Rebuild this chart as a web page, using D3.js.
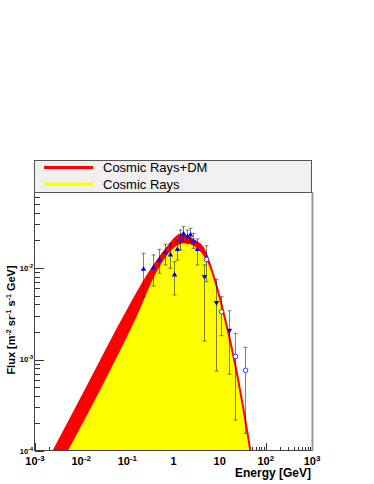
<!DOCTYPE html>
<meta charset="utf-8">
<style>
    body { margin: 0; background: #fff; }
    text { font-family: "Liberation Sans", Arial, sans-serif; }
    .tick-label { font-weight: bold; }
</style>
<svg width="374" height="484"></svg>
<script src="https://d3js.org/d3.v7.min.js"></script>
<script>
    // curve: energy [GeV] and flux
    var crdmEnergy = [0.0022, 0.00271, 0.0155, 0.0817, 0.310, 0.711, 1.45, 2.69, 4.42, 7.28, 12.0, 19.7, 32.5, 45.4, 52];
    var crdmFlux   = [8.75e-5, 1.07e-4, 5.71e-4, 2.82e-3, 9.12e-3, 0.0164, 0.0232, 0.0202, 0.0164, 8.37e-3, 3.33e-3, 1.12e-3, 2.93e-4, 1.07e-4, 7.1e-5];

    var crEnergy = [0.0045, 0.00553, 0.0317, 0.164, 0.431, 0.99, 1.77, 2.92, 4.08, 7.28, 12.0, 19.7, 32.5, 45.4, 52];
    var crFlux   = [8.8e-5, 1.07e-4, 5.71e-4, 3.06e-3, 9.12e-3, 0.0164, 0.0186, 0.0171, 0.0145, 8.2e-3, 3.28e-3, 1.10e-3, 2.88e-4, 1.05e-4, 7.0e-5];

    // measurements: energy, flux, upper, lower
    var upEnergy = [0.222, 0.354, 0.485, 0.664, 0.851, 1.01, 1.17, 1.38, 1.63, 1.96, 2.28, 2.68, 3.18];
    var upFlux   = [9.68e-3, 0.0101, 0.0122, 0.0149, 0.0139, 8.38e-3, 0.0160, 0.0208, 0.0236, 0.0220, 0.0230, 0.0194, 0.0160];
    var upHigh   = [0.0145, 0.0139, 0.0160, 0.0182, 0.0186, 0.0117, 0.0197, 0.0260, 0.0283, 0.0260, 0.0272, 0.0239, 0.0208];
    var upLow    = [4.85e-3, 6.35e-3, 8.75e-3, 0.0108, 9.93e-3, 5.07e-3, 0.0122, 0.0157, 0.0194, 0.0186, 0.0194, 0.0164, 0.0108];

    var downEnergy = [4.65, 8.32, 16.1];
    var downFlux   = [8.04e-3, 4.18e-3, 2.08e-3];
    var downHigh   = [0.0108, 7.53e-3, 3.41e-3];
    var downLow    = [1.59e-3, 7.48e-4, 6.89e-4];

    var circEnergy = [4.98, 10.7, 21.5, 35.9];
    var circFlux   = [0.0124, 3.33e-3, 1.08e-3, 7.62e-4];
    var circHigh   = [0.0175, 4.85e-3, 1.93e-3, 1.36e-3];
    var circLow    = [7.08e-3, 1.82e-3, 2.18e-4, 1.56e-4];

    var xTicks = [1e-3, 1e-2, 1e-1, 1, 10, 100, 1000];
    var xTickLabels = [["10", "-3"], ["10", "-2"], ["10", "-1"], ["1", ""], ["10", ""], ["10", "2"], ["10", "3"]];
    var yTicks = [1e-4, 1e-3, 1e-2];
    var yTickLabels = [["10", "-4"], ["10", "-3"], ["10", "-2"]];
    var legendNames = ["Cosmic Rays+DM", "Cosmic Rays"];
    var legendColors = ["#ff0000", "#ffff00"];

    var svg = d3.select("svg");
    var pLeft = 35, pRight = 312, pTop = 192, pBottom = 451;

    var x = d3.scaleLog().domain([1e-3, 1e3]).range([pLeft, pRight]);
    var y = d3.scaleLog().domain([1e-4, Math.pow(10, -4 + (pBottom - pTop) / 91.5)]).range([pBottom, pTop]);

    svg.append("clipPath").attr("id", "frame")
        .append("rect").attr("x", pLeft).attr("y", pTop)
        .attr("width", pRight - pLeft).attr("height", pBottom - pTop);

    // ticks
    var minorX = [], minorY = [];
    for (var p = -3; p < 3; p++) for (var m = 2; m < 10; m++) minorX.push(m * Math.pow(10, p));
    for (var p = -4; p < -1; p++) for (var m = 2; m < 10; m++) {
        var v = m * Math.pow(10, p);
        if (v < y.domain()[1]) minorY.push(v);
    }
    var axes = svg.append("g").attr("stroke", "#333").attr("stroke-width", 1);
    axes.selectAll(".mx").data(minorX).enter().append("line")
        .attr("x1", function(d) { return Math.round(x(d)) + 0.5; })
        .attr("x2", function(d) { return Math.round(x(d)) + 0.5; })
        .attr("y1", pBottom - 0.5).attr("y2", pBottom - 4);
    axes.selectAll(".Mx").data(xTicks).enter().append("line")
        .attr("x1", function(d) { return Math.round(x(d)) + 0.5; })
        .attr("x2", function(d) { return Math.round(x(d)) + 0.5; })
        .attr("y1", pBottom - 0.5).attr("y2", pBottom - 8);
    axes.selectAll(".my").data(minorY).enter().append("line")
        .attr("y1", function(d) { return Math.round(y(d)) + 0.5; })
        .attr("y2", function(d) { return Math.round(y(d)) + 0.5; })
        .attr("x1", pLeft).attr("x2", pLeft + 5);
    axes.selectAll(".My").data(yTicks).enter().append("line")
        .attr("y1", function(d) { return Math.round(y(d)) + 0.5; })
        .attr("y2", function(d) { return Math.round(y(d)) + 0.5; })
        .attr("x1", pLeft).attr("x2", pLeft + 9);

    // filled curves
    var plot = svg.append("g").attr("clip-path", "url(#frame)");
    var crdm = crdmEnergy.map(function(e, i) { return [e, crdmFlux[i]]; });
    var cr = crEnergy.map(function(e, i) { return [e, crFlux[i]]; });
    var area = d3.area()
        .x(function(d) { return x(d[0]); })
        .y0(pBottom)
        .y1(function(d) { return y(d[1]); })
        .curve(d3.curveMonotoneX);
    var line = d3.line()
        .x(function(d) { return x(d[0]); })
        .y(function(d) { return y(d[1]); })
        .curve(d3.curveMonotoneX);
    plot.append("path").attr("d", area(crdm)).attr("fill", "#ff0000");
    plot.append("path").attr("d", area(cr)).attr("fill", "#ffff00");
    plot.append("path").attr("d", line(crdm)).attr("fill", "none")
        .attr("stroke", "#ff0000").attr("stroke-width", 2);

    // error bars
    function errorBars(E, F, hi, lo) {
        var g = plot.append("g").attr("stroke", "#000").attr("stroke-opacity", 0.5).attr("stroke-width", 1);
        E.forEach(function(e, i) {
            var cx = Math.round(x(e)) + 0.5;
            g.append("line").attr("x1", cx).attr("x2", cx).attr("y1", y(hi[i])).attr("y2", y(lo[i]));
            g.append("line").attr("x1", cx - 2).attr("x2", cx + 2).attr("y1", y(hi[i])).attr("y2", y(hi[i]));
            g.append("line").attr("x1", cx - 2).attr("x2", cx + 2).attr("y1", y(lo[i])).attr("y2", y(lo[i]));
        });
    }
    errorBars(upEnergy, upFlux, upHigh, upLow);
    errorBars(downEnergy, downFlux, downHigh, downLow);
    errorBars(circEnergy, circFlux, circHigh, circLow);

    var tri = d3.symbol().type(d3.symbolTriangle).size(13);
    plot.selectAll(".up").data(upEnergy).enter().append("path")
        .attr("d", tri)
        .attr("transform", function(d, i) { return "translate(" + (Math.round(x(d)) + 0.5) + "," + y(upFlux[i]) + ")"; })
        .attr("fill", "#0000ff");
    plot.selectAll(".down").data(downEnergy).enter().append("path")
        .attr("d", tri)
        .attr("transform", function(d, i) { return "translate(" + (Math.round(x(d)) + 0.5) + "," + y(downFlux[i]) + ") rotate(180)"; })
        .attr("fill", "#0000ff");
    plot.selectAll(".circ").data(circEnergy).enter().append("circle")
        .attr("cx", function(d) { return Math.round(x(d)) + 0.5; })
        .attr("cy", function(d, i) { return y(circFlux[i]); })
        .attr("r", 2.3)
        .attr("fill", "#fff").attr("stroke", "#3333ff").attr("stroke-width", 1);

    // frame
    svg.append("line").attr("x1", pLeft - 0.5).attr("x2", pLeft - 0.5).attr("y1", pTop).attr("y2", pBottom)
        .attr("stroke", "#444").attr("stroke-width", 1);
    svg.append("line").attr("x1", pLeft - 1).attr("x2", pRight).attr("y1", pBottom - 0.5).attr("y2", pBottom - 0.5)
        .attr("stroke", "#444").attr("stroke-width", 1);
    svg.append("line").attr("x1", pRight + 0.5).attr("x2", pRight + 0.5).attr("y1", pTop).attr("y2", pBottom)
        .attr("stroke", "#999").attr("stroke-width", 2);

    // tick labels
    var xl = svg.append("g").attr("class", "tick-label");
    xTicks.forEach(function(t, i) {
        var txt = xl.append("text").attr("x", x(t)).attr("y", 465).attr("text-anchor", "middle")
            .attr("font-size", 11).attr("fill", "#000");
        txt.append("tspan").text(xTickLabels[i][0]);
        if (xTickLabels[i][1]) txt.append("tspan").attr("dy", -4).attr("font-size", 8).text(xTickLabels[i][1]);
    });
    var yl = svg.append("g").attr("class", "tick-label");
    yTicks.forEach(function(t, i) {
        var txt = yl.append("text").attr("x", 33).attr("y", y(t) + 2.5).attr("text-anchor", "end")
            .attr("font-size", 7.5).attr("fill", "#000");
        txt.append("tspan").text(yTickLabels[i][0]);
        txt.append("tspan").attr("dy", -3).attr("font-size", 5.5).text(yTickLabels[i][1]);
    });

    // axis titles
    svg.append("text").attr("x", 311).attr("y", 477).attr("text-anchor", "end")
        .attr("font-size", 12).attr("font-weight", "bold").text("Energy [GeV]");
    var yt = svg.append("text").attr("transform", "translate(15,320) rotate(-90)")
        .attr("text-anchor", "middle").attr("font-size", 11).attr("font-weight", "bold");
    yt.append("tspan").text("Flux [m");
    yt.append("tspan").attr("dy", -4).attr("font-size", 7).text("-2");
    yt.append("tspan").attr("dy", 4).text(" sr");
    yt.append("tspan").attr("dy", -4).attr("font-size", 7).text("-1");
    yt.append("tspan").attr("dy", 4).text(" s");
    yt.append("tspan").attr("dy", -4).attr("font-size", 7).text("-1");
    yt.append("tspan").attr("dy", 4).text(" GeV]");

    // legend
    svg.append("rect").attr("x", 34.5).attr("y", 160.5).attr("width", 277).attr("height", 32)
        .attr("fill", "#f0f0f0").attr("stroke", "#555").attr("stroke-width", 1);
    legendNames.forEach(function(name, i) {
        var ly = 167.5 + i * 16.5;
        svg.append("line").attr("x1", 44).attr("x2", 93).attr("y1", ly).attr("y2", ly)
            .attr("stroke", legendColors[i]).attr("stroke-width", 3);
        svg.append("text").attr("x", 103).attr("y", ly + 4.5).attr("font-size", 13)
            .attr("fill", "#000").text(name);
    });
</script>
